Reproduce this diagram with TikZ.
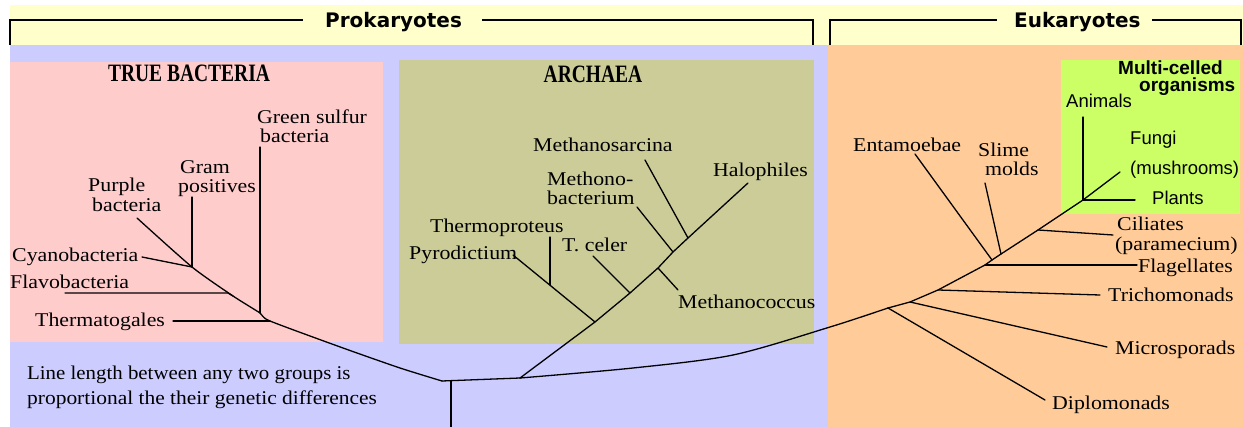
\documentclass[tikz,border=0pt]{standalone}
\usepackage{fontspec}
\setmainfont{Liberation Serif}
\newfontfamily\lsans{Liberation Sans}
\newfontfamily\dvsans{DejaVu Sans}
\definecolor{bandyellow}{HTML}{FFFFCC}
\definecolor{bgblue}{HTML}{CCCCFF}
\definecolor{bgpink}{HTML}{FFCCCC}
\definecolor{bgolive}{HTML}{CCCC99}
\definecolor{bgorange}{HTML}{FFCC99}
\definecolor{bggreen}{HTML}{CCFF66}
\newcommand\stretchtxt[1]{\scalebox{1.12}[1]{#1}}
\begin{document}
\begin{tikzpicture}[x=1pt,y=-1pt,
  lbl/.style={inner sep=0pt, anchor=base west, font=\fontsize{19.5}{18}\selectfont},
  slbl/.style={inner sep=0pt, anchor=base west, font=\lsans\fontsize{18.5}{18}\selectfont},
  head/.style={inner sep=0pt, anchor=base, font=\bfseries\fontsize{25}{25}\selectfont},
  group/.style={inner sep=0pt, anchor=base west, font=\dvsans\bfseries\fontsize{20}{20}\selectfont},
  multi/.style={inner sep=0pt, anchor=base west, font=\lsans\bfseries\fontsize{19}{19}\selectfont},
  branch/.style={line width=1.3pt, black, line cap=round, line join=round},
  bracket/.style={line width=2pt, black}]
\useasboundingbox (0,0) rectangle (1243,427);
% backgrounds
\fill[white] (0,0) rectangle (1243,427);
\fill[bandyellow] (10,5) rectangle (1243,45);
\fill[bgblue] (10,45) rectangle (828,427);
\fill[bgorange] (828,45) rectangle (1243,427);
\fill[bgpink] (10,62) rectangle (383,342);
\fill[bgolive] (399,60) rectangle (814,344);
\fill[bggreen] (1061,60) rectangle (1240,214);
% group brackets
\node[group] (prok) at (325,28) {Prokaryotes};
\node[group] (euk) at (1014,28) {Eukaryotes};
\draw[bracket] (10,45) -- (10,20) -- (303,20);
\draw[bracket] (482,20) -- (813,20) -- (813,45);
\draw[bracket] (830,45) -- (830,20) -- (997,20);
\draw[bracket] (1152,20) -- (1241,20) -- (1241,45);
% headings
\node[head] (tb) at (189,82) {\scalebox{0.78}[1]{TRUE BACTERIA}};
\node[head] (ar) at (593,83) {\scalebox{0.78}[1]{ARCHAEA}};
\node[multi] (mc1) at (1118,75) {Multi-celled};
\node[multi] (mc2) at (1139,92) {organisms};
% ---------- tree coordinates ----------
\coordinate (root) at (451,381);
\coordinate (rootend) at (451,427);
\coordinate (b0) at (442,381);
\coordinate (b1) at (400,368);
\coordinate (b2) at (343,348);
\coordinate (bt) at (270,321);
\coordinate (bg) at (260,313);
\coordinate (bf) at (233,296);
\coordinate (bc) at (192,267);
\coordinate (bp) at (137,218);
\coordinate (btE) at (173,321);
\coordinate (bfE) at (65,293);
\coordinate (bfK) at (228,293);
\coordinate (bgE) at (260,147);
\coordinate (bcG) at (192,197);
\coordinate (bcE) at (142,257);
% archaea
\coordinate (a0) at (520,378);
\coordinate (ap) at (595,322);
\coordinate (atc) at (630,293);
\coordinate (amc) at (658,268);
\coordinate (amb) at (673,252);
\coordinate (ams) at (688,238);
\coordinate (ah) at (748,183);
\coordinate (apE) at (513,255);
\coordinate (athJ) at (550,285);
\coordinate (athE) at (550,237);
\coordinate (atcE) at (593,256);
\coordinate (amcE) at (678,290);
\coordinate (ambE) at (637,207);
\coordinate (amsE) at (645,160);
% eukaryotes
\coordinate (e1) at (633,368);
\coordinate (e2) at (733,355);
\coordinate (e3) at (830,327);
\coordinate (ed) at (888,308);
\coordinate (emi) at (910,302);
\coordinate (etr) at (938,290);
\coordinate (efl) at (985,265);
\coordinate (een) at (992,260);
\coordinate (esl) at (1001,254);
\coordinate (eci) at (1038,230);
\coordinate (emu) at (1083,200);
\coordinate (edE) at (1045,400);
\coordinate (emiE) at (1107,347);
\coordinate (etrE) at (1100,295);
\coordinate (eflE) at (1137,265);
\coordinate (eenE) at (915,154);
\coordinate (eslE) at (985,183);
\coordinate (eciE) at (1113,235);
\coordinate (eanE) at (1083,117);
\coordinate (efuE) at (1120,172);
\coordinate (eplE) at (1135,200);
% ---------- tree ----------
\draw[branch] (root) -- (rootend);
\draw[branch] (b0) -- (a0);
\draw[branch] plot[smooth, tension=0.4] coordinates {(b0) (b1) (b2) (bt) (bg) (bf) (bc) (bp)};
\draw[branch] (btE) -- (bt);
\draw[branch] (bfE) -- (bfK) -- (bf);
\draw[branch] (bgE) -- (bg);
\draw[branch] (bcG) -- (bc);
\draw[branch] (bcE) -- (bc);
\draw[branch] (a0) -- (ap) -- (atc) -- (amc) -- (amb) -- (ams) -- (ah);
\draw[branch] (apE) -- (ap);
\draw[branch] (athE) -- (athJ);
\draw[branch] (atcE) -- (atc);
\draw[branch] (amc) -- (amcE);
\draw[branch] (ambE) -- (amb);
\draw[branch] (amsE) -- (ams);
\draw[branch] plot[smooth, tension=0.5] coordinates {(a0) (e1) (e2) (e3) (ed)};
\draw[branch] (ed) -- (emi) -- (etr) -- (efl) -- (een) -- (esl) -- (eci) -- (emu);
\draw[branch] (ed) -- (edE);
\draw[branch] (emi) -- (emiE);
\draw[branch] (etr) -- (etrE);
\draw[branch] (efl) -- (eflE);
\draw[branch] (eenE) -- (een);
\draw[branch] (eslE) -- (esl);
\draw[branch] (eci) -- (eciE);
\draw[branch] (emu) -- (eanE);
\draw[branch] (emu) -- (efuE);
\draw[branch] (emu) -- (eplE);
% ---------- labels ----------
\node[lbl] (gs1) at (257,124) {\stretchtxt{Green sulfur}};
\node[lbl] (gs2) at (260,143) {\stretchtxt{bacteria}};
\node[lbl] (gp1) at (180,174) {\stretchtxt{Gram}};
\node[lbl] (gp2) at (178,193) {\stretchtxt{positives}};
\node[lbl] (pb1) at (88,192) {\stretchtxt{Purple}};
\node[lbl] (pb2) at (92,212) {\stretchtxt{bacteria}};
\node[lbl] (cy) at (12,262) {\stretchtxt{Cyanobacteria}};
\node[lbl] (fl) at (10,289) {\stretchtxt{Flavobacteria}};
\node[lbl] (th) at (35,327) {\stretchtxt{Thermatogales}};
\node[lbl] (msa) at (533,152) {\stretchtxt{Methanosarcina}};
\node[lbl] (mb1) at (547,186) {\stretchtxt{Methono-}};
\node[lbl] (mb2) at (547,205) {\stretchtxt{bacterium}};
\node[lbl] (tpr) at (430,233) {\stretchtxt{Thermoproteus}};
\node[lbl] (pyr) at (409,260) {\stretchtxt{Pyrodictium}};
\node[lbl] (tce) at (562,252) {\stretchtxt{T. celer}};
\node[lbl] (hal) at (713,177) {\stretchtxt{Halophiles}};
\node[lbl] (mco) at (678,309) {\stretchtxt{Methanococcus}};
\node[lbl] (ent) at (853,152) {\stretchtxt{Entamoebae}};
\node[lbl] (sl1) at (978,157) {\stretchtxt{Slime}};
\node[lbl] (sl2) at (985,176) {\stretchtxt{molds}};
\node[lbl] (ci1) at (1117,231) {\stretchtxt{Ciliates}};
\node[lbl] (ci2) at (1115,251) {\stretchtxt{(paramecium)}};
\node[lbl] (fla) at (1138,273) {\stretchtxt{Flagellates}};
\node[lbl] (tri) at (1108,302) {\stretchtxt{Trichomonads}};
\node[lbl] (mic) at (1115,355) {\stretchtxt{Microsporads}};
\node[lbl] (dip) at (1052,410) {\stretchtxt{Diplomonads}};
\node[slbl] (ani) at (1066,108) {Animals};
\node[slbl] (fu1) at (1130,145) {Fungi};
\node[slbl] (fu2) at (1130,175) {(mushrooms)};
\node[slbl] (pla) at (1152,205) {Plants};
\node[lbl] (note1) at (27,380) {\scalebox{1.07}[1]{Line length between any two groups is}};
\node[lbl] (note2) at (27,405) {\scalebox{1.1}[1]{proportional the their genetic differences}};
\end{tikzpicture}
\end{document}
